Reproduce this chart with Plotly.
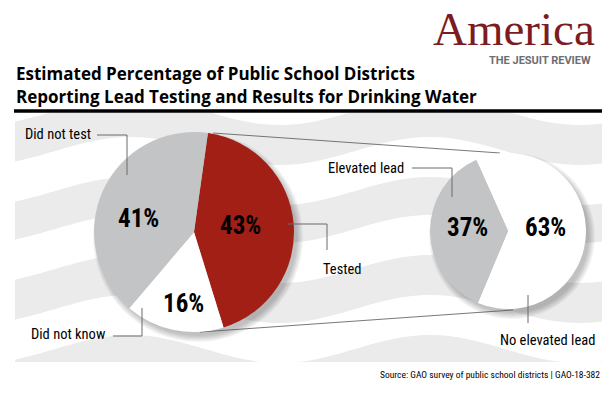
import numpy as np
import plotly.graph_objects as go

# ---------------- data ----------------
left_labels = ["Tested", "Did not know", "Did not test"]
left_values = [43, 16, 41]
left_colors = ["#a21f16", "#ffffff", "#c3c4c6"]

right_labels = ["No elevated lead", "Elevated lead"]
right_values = [63, 37]
right_colors = ["#ffffff", "#c3c4c6"]

title_lines = ["Estimated Percentage of Public School Districts",
               "Reporting Lead Testing and Results for Drinking Water"]
source_text = "Source: GAO survey of public school districts | GAO-18-382"

W, H = 612, 396
COND = "Noto Sans Condensed, Noto Sans Display Condensed, Roboto Condensed, Roboto, sans-serif"

# ---------------- layout geometry (pixels) ----------------
LC, LR = (194, 232), 100
RC, RR = (508, 231), 78
panel = (15, 113, 602, 362)


def dom(c, r):
    return dict(x=[(c[0] - r) / W, (c[0] + r) / W], y=[1 - (c[1] + r) / H, 1 - (c[1] - r) / H])


fig = go.Figure()
fig.add_trace(go.Pie(labels=left_labels, values=left_values, sort=False, direction="clockwise",
                     rotation=8, marker=dict(colors=left_colors, line=dict(width=0)),
                     textinfo="none", hoverinfo="label+percent", domain=dom(LC, LR), showlegend=False))
fig.add_trace(go.Pie(labels=right_labels, values=right_values, sort=False, direction="clockwise",
                     rotation=-24, marker=dict(colors=right_colors, line=dict(width=0)),
                     textinfo="none", hoverinfo="label+percent", domain=dom(RC, RR), showlegend=False))

shapes = []
# gray panel
shapes.append(dict(type="rect", x0=panel[0], y0=panel[1], x1=panel[2], y1=panel[3],
                   fillcolor="#ebebeb", line=dict(width=0), layer="below"))
# white wavy bands
xs = np.linspace(panel[0], panel[2], 120)
wave = -14 * np.cos(2 * np.pi * (xs - 130) / 300)
for c in [91, 171, 249, 329, 409]:
    top = np.clip(c - 20 + wave, panel[1], panel[3])
    bot = np.clip(c + 20 + wave, panel[1], panel[3])
    pts = [f"{x:.1f},{y:.1f}" for x, y in zip(xs, top)] + [f"{x:.1f},{y:.1f}" for x, y in zip(xs[::-1], bot[::-1])]
    shapes.append(dict(type="path", path="M" + " L".join(pts) + " Z", fillcolor="#ffffff",
                       line=dict(width=0), layer="below"))
# soft shadows (bottom-right)
for (c, r) in [(LC, LR), (RC, RR)]:
    for i in range(6):
        rr = r - 1 + i * 1.2
        shapes.append(dict(type="circle", x0=c[0] + 4 - rr, x1=c[0] + 4 + rr, y0=c[1] + 5 - rr, y1=c[1] + 5 + rr,
                           fillcolor="rgba(0,0,0,0.045)", line=dict(width=0), layer="below"))
# connector lines between pies
for (x0, y0, x1, y1) in [(213, 133, 500, 153), (200, 332, 513, 310)]:
    shapes.append(dict(type="line", x0=x0, y0=y0, x1=x1, y1=y1, line=dict(color="#555555", width=0.8), layer="below"))
# black rule
shapes.append(dict(type="line", x0=14, y0=111, x1=602, y1=111, line=dict(color="#000000", width=3.5)))
# leader lines
for pts in [[(97, 135), (127, 135), (127, 175)],
            [(113, 336), (142, 336), (142, 308)],
            [(288, 224), (327, 224), (327, 250)],
            [(412, 168), (452, 168), (452, 197)],
            [(528, 295), (528, 323)]]:
    path = "M" + " L".join(f"{x},{y}" for x, y in pts)
    shapes.append(dict(type="path", path=path, line=dict(color="#6b6b6b", width=1)))

ann = []


def A(text, x, y, size, color="#000000", family=COND, xanchor="center", bold=False):
    t = f"<b>{text}</b>" if bold else text
    ann.append(dict(text=t, x=x, y=y, xref="x", yref="y", showarrow=False, xanchor=xanchor, yanchor="middle",
                    font=dict(size=size, color=color, family=family)))


# percentages
pct_pos_left = [(240, 225), (183, 303), (138, 218)]
pct_pos_right = [(545, 227), (467, 227)]
for v, (x, y) in zip(left_values, pct_pos_left):
    A(f"{v}%", x, y, 25, bold=True)
for v, (x, y) in zip(right_values, pct_pos_right):
    A(f"{v}%", x, y, 25, bold=True)

# category labels
A("Did not test", 93, 134, 14.5, xanchor="right")
A("Did not know", 108, 334, 14.5, xanchor="right")
A("Tested", 342, 269, 14.5)
A("Elevated lead", 406, 168, 14.5, xanchor="right")
A("No elevated lead", 547, 340, 14.5)

# titles
A(title_lines[0], 14, 73, 17, family="Open Sans, Roboto, sans-serif", xanchor="left", bold=True)
A(title_lines[1], 14, 96, 17, family="Open Sans, Roboto, sans-serif", xanchor="left", bold=True)
A("America", 597, 28.5, 47, color="#7b1c22", family="Liberation Serif, DejaVu Serif, serif", xanchor="right")
A("THE JESUIT REVIEW", 593, 60.5, 11, color="#6d6e71", family="Roboto, Open Sans, sans-serif", xanchor="right", bold=True)
A(source_text, 602, 374, 9.5, family=COND, xanchor="right")

fig.update_layout(
    width=W, height=H, margin=dict(l=0, r=0, t=0, b=0),
    paper_bgcolor="#ffffff", plot_bgcolor="rgba(0,0,0,0)",
    xaxis=dict(range=[0, W], visible=False, fixedrange=True, domain=[0, 1]),
    yaxis=dict(range=[H, 0], visible=False, fixedrange=True, domain=[0, 1]),
    shapes=shapes, annotations=ann, showlegend=False,
)
fig.write_html("out.html", config={"displayModeBar": False},
               post_script="document.body.style.margin='0';")
